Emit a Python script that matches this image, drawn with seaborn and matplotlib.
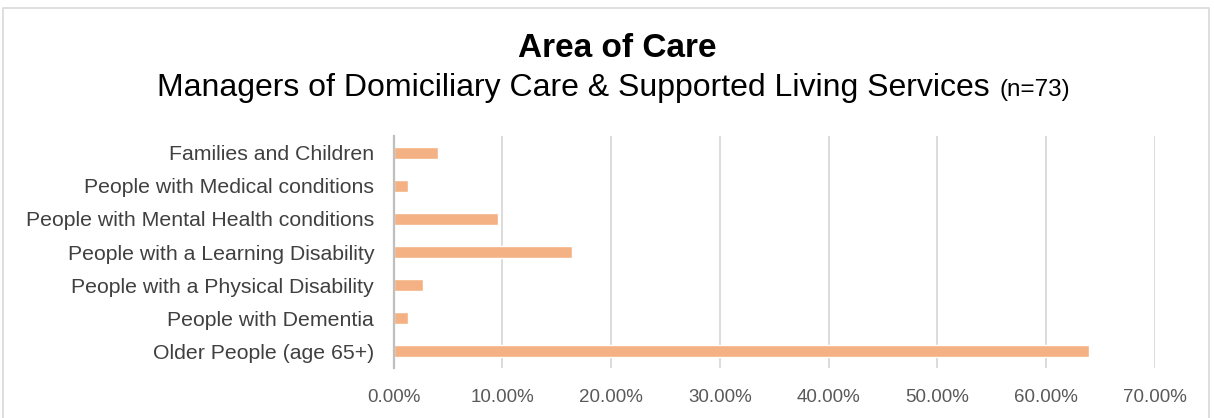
import matplotlib
matplotlib.use("Agg")
import matplotlib.pyplot as plt
import seaborn as sns
import pandas as pd
from matplotlib.patches import Rectangle
from matplotlib.ticker import FuncFormatter, MultipleLocator

categories = [
    "Families and Children",
    "People with Medical conditions",
    "People with Mental Health conditions",
    "People with a Learning Disability",
    "People with a Physical Disability",
    "People with Dementia",
    "Older People (age 65+)",
]
values = [4.11, 1.37, 9.59, 16.44, 2.74, 1.37, 63.93]
title = "Area of Care"
subtitle = "Managers of Domiciliary Care & Supported Living Services"
subtitle_n = "(n=73)"

sns.set_theme(style="white")
plt.rcParams["font.family"] = ["Liberation Sans", "DejaVu Sans"]

W, H, DPI = 1214, 418, 100
fig = plt.figure(figsize=(W / DPI, H / DPI), dpi=DPI)
fig.patch.set_facecolor("white")

# outer chart frame
fig.patches.append(Rectangle((3 / W, -0.05), 1206 / W, 1 - 8 / H + 0.05,
                             transform=fig.transFigure, fill=False,
                             edgecolor="#D9D9D9", linewidth=1.2))

ax = fig.add_axes([393.5 / W, 1 - 368 / H, (1155 - 393.5) / W, (368 - 136) / H])
df = pd.DataFrame({"category": categories, "value": values})
sns.barplot(data=df, x="value", y="category", orient="h", color="#F4B183",
            width=0.36, saturation=1, ax=ax)

ax.set_xlim(0, 70)
ax.set_ylim(len(categories) - 0.5, -0.5)
ax.xaxis.set_major_locator(MultipleLocator(10))
ax.xaxis.set_major_formatter(FuncFormatter(lambda v, p: f"{v:.2f}%"))
ax.grid(axis="x", color="#D9D9D9", linewidth=1.3)
ax.set_axisbelow(True)
for s in ["top", "right", "bottom"]:
    ax.spines[s].set_visible(False)
ax.spines["left"].set_color("#BFBFBF")
ax.spines["left"].set_linewidth(1.6)
ax.set_xlabel("")
ax.set_ylabel("")
ax.tick_params(axis="x", length=0, pad=15, labelsize=13.5, labelcolor="#595959")
ax.tick_params(axis="y", length=0, pad=14, labelsize=15.3, labelcolor="#404040")

# titles
fig.text(617 / W, 1 - 57 / H, title, ha="center", va="baseline",
         fontsize=24, fontweight="bold", color="black")
renderer = fig.canvas.get_renderer()
t1 = fig.text(157 / W, 1 - 96 / H, subtitle, ha="left", va="baseline",
              fontsize=23, color="black")
bb = t1.get_window_extent(renderer)
fig.text((bb.x1 + 10) / W, 1 - 96 / H, subtitle_n, ha="left", va="baseline",
         fontsize=17.5, color="black")

fig.savefig("out.png", dpi=DPI, facecolor="white")
